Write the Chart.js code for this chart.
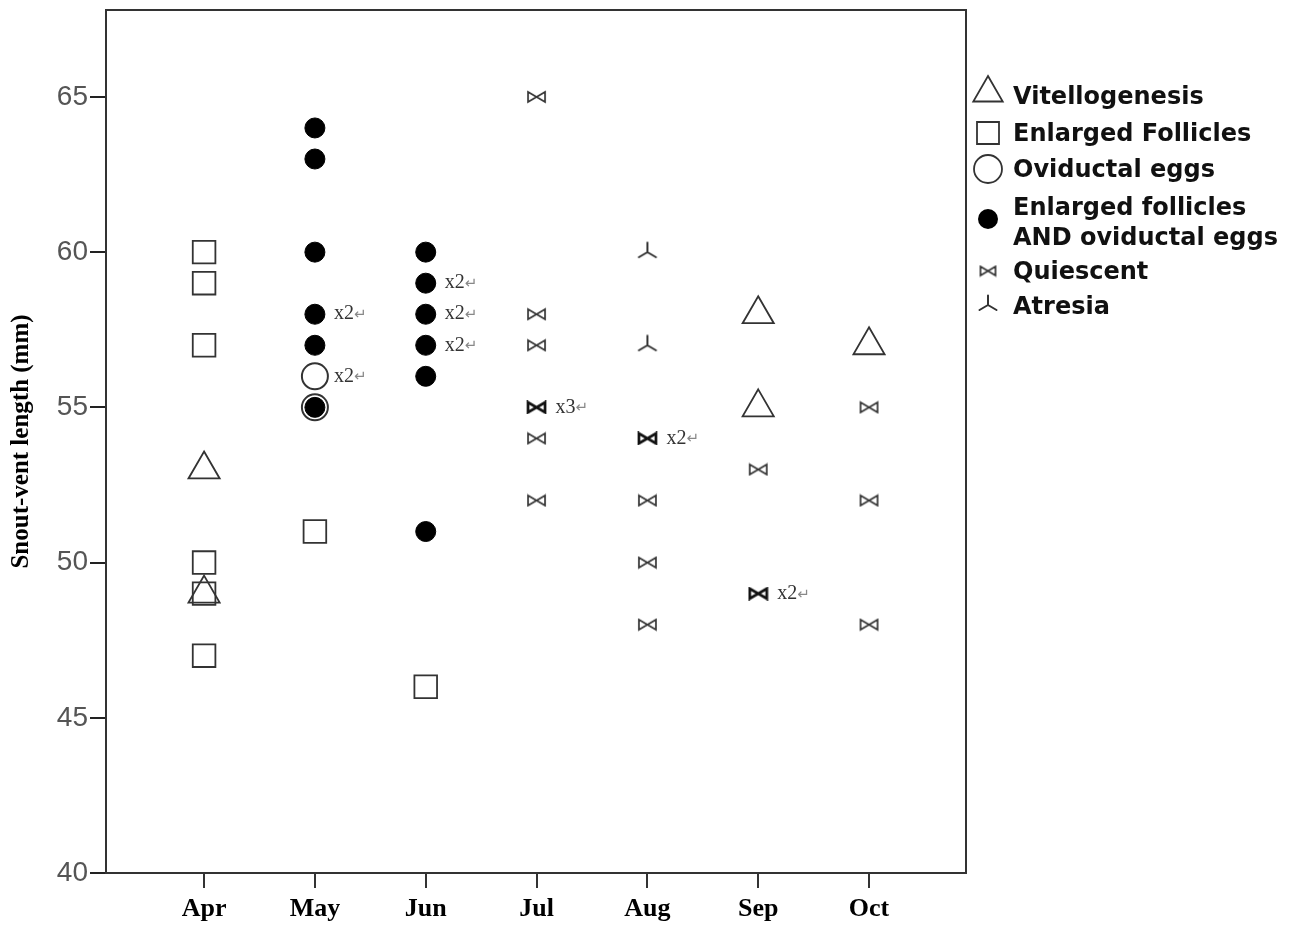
<!DOCTYPE html>
<html>
<head>
<meta charset="utf-8">
<script src="https://cdn.jsdelivr.net/npm/chart.js@4"></script>
<style>
  html, body { margin: 0; padding: 0; background: #ffffff; }
  #wrap { width: 1298px; height: 926px; }
</style>
</head>
<body>
<div id="wrap"><canvas id="c" width="1298" height="926"></canvas></div>
<script>
// ---------- Data ----------
const months = ['Apr', 'May', 'Jun', 'Jul', 'Aug', 'Sep', 'Oct'];
const yTicks = [40, 45, 50, 55, 60, 65];

const vitelloMonth = ['Apr', 'Apr', 'Sep', 'Sep', 'Oct'];
const vitelloSVL   = [53, 49, 58, 55, 57];

const enlargedMonth = ['Apr', 'Apr', 'Apr', 'Apr', 'Apr', 'Apr', 'May', 'Jun'];
const enlargedSVL   = [60, 59, 57, 50, 49, 47, 51, 46];

const oviductMonth = ['May', 'May'];
const oviductSVL   = [56, 55];

const bothMonth = ['May', 'May', 'May', 'May', 'May', 'May', 'Jun', 'Jun', 'Jun', 'Jun', 'Jun', 'Jun'];
const bothSVL   = [64, 63, 60, 58, 57, 55, 60, 59, 58, 57, 56, 51];

const quiescentMonth = ['Jul', 'Jul', 'Jul', 'Jul', 'Jul', 'Jul', 'Aug', 'Aug', 'Aug', 'Aug', 'Sep', 'Sep', 'Oct', 'Oct', 'Oct'];
const quiescentSVL   = [65, 58, 57, 55, 54, 52, 54, 52, 50, 48, 53, 49, 55, 52, 48];

const atresiaMonth = ['Aug', 'Aug'];
const atresiaSVL   = [60, 57];

// multiplicity labels ("x2", "x3")
const multMonth = ['May', 'May', 'Jun', 'Jun', 'Jun', 'Jul', 'Aug', 'Sep'];
const multSVL   = [58, 56, 59, 58, 57, 55, 54, 49];
const multCount = [2, 2, 2, 2, 2, 3, 2, 2];

const seriesNames = ['Vitellogenesis', 'Enlarged Follicles', 'Oviductal eggs',
  ['Enlarged follicles', 'AND oviductal eggs'], 'Quiescent', 'Atresia'];

// ---------- Helpers ----------
const mIdx = m => months.indexOf(m);
const pts = (ms, vs) => ms.map((m, i) => ({ x: mIdx(m), y: vs[i] }));
const isMulti = (x, y) => multMonth.some((m, i) => mIdx(m) === x && multSVL[i] === y);

function makeBowtie(w, h, lw, color) {
  const c = document.createElement('canvas');
  c.width = w + 4; c.height = h + 4;
  const g = c.getContext('2d');
  g.strokeStyle = color; g.lineWidth = lw; g.lineJoin = 'miter';
  const l = 2, r = w + 2, t = 2, b = h + 2, cx = (w + 4) / 2, cy = (h + 4) / 2;
  g.beginPath();
  g.moveTo(l, t); g.lineTo(l, b); g.lineTo(cx, cy); g.closePath();
  g.moveTo(r, t); g.lineTo(r, b); g.lineTo(cx, cy); g.closePath();
  g.stroke();
  return c;
}
function makeAtresia(color) {
  const c = document.createElement('canvas');
  c.width = 22; c.height = 22;
  const g = c.getContext('2d');
  g.strokeStyle = color; g.lineWidth = 2; g.lineCap = 'round';
  g.beginPath();
  g.moveTo(11, 11); g.lineTo(11, 1.5);
  g.moveTo(11, 11); g.lineTo(2.5, 16);
  g.moveTo(11, 11); g.lineTo(19.5, 16);
  g.stroke();
  return c;
}
const bowtie = makeBowtie(17, 10, 1.7, '#333');
const bowtieBold = makeBowtie(17, 10, 2.7, '#111');
const bowtieLegend = makeBowtie(15, 9, 1.7, '#333');
const atresia = makeAtresia('#333');

// ---------- Plugins ----------
const framePlugin = {
  id: 'frame',
  afterDraw(chart) {
    const { ctx, chartArea: a } = chart;
    ctx.save();
    ctx.strokeStyle = '#333';
    ctx.lineWidth = 2;
    ctx.strokeRect(a.left, a.top, a.right - a.left, a.bottom - a.top);
    ctx.restore();
  }
};

const multPlugin = {
  id: 'mult',
  afterDatasetsDraw(chart) {
    const { ctx, scales } = chart;
    ctx.save();
    ctx.textBaseline = 'middle';
    ctx.textAlign = 'left';
    multMonth.forEach((m, i) => {
      const px = scales.x.getPixelForValue(mIdx(m)) + 19;
      const py = scales.y.getPixelForValue(multSVL[i]);
      const t = 'x' + multCount[i];
      ctx.font = '20px "Liberation Serif"';
      ctx.fillStyle = '#333';
      ctx.fillText(t, px, py);
      const w = ctx.measureText(t).width;
      ctx.fillStyle = '#888';
      ctx.font = '15px "DejaVu Sans"';
      ctx.fillText('\u21B5', px + w, py + 1);
    });
    ctx.restore();
  }
};

function drawMarker(ctx, type, x, y) {
  ctx.save();
  ctx.strokeStyle = '#333';
  ctx.lineWidth = 1.8;
  ctx.beginPath();
  if (type === 0) {
    const r = 17;
    ctx.moveTo(x, y - r);
    ctx.lineTo(x + r * Math.sin(2 * Math.PI / 3), y - r * Math.cos(2 * Math.PI / 3));
    ctx.lineTo(x + r * Math.sin(4 * Math.PI / 3), y - r * Math.cos(4 * Math.PI / 3));
    ctx.closePath(); ctx.stroke();
  } else if (type === 1) {
    ctx.rect(x - 11, y - 11, 22, 22); ctx.stroke();
  } else if (type === 2) {
    ctx.arc(x, y, 14, 0, Math.PI * 2); ctx.stroke();
  } else if (type === 3) {
    ctx.fillStyle = '#000';
    ctx.arc(x, y, 10, 0, Math.PI * 2); ctx.fill();
  } else if (type === 4) {
    ctx.drawImage(bowtieLegend, x - bowtieLegend.width / 2, y - bowtieLegend.height / 2);
  } else if (type === 5) {
    ctx.drawImage(atresia, x - atresia.width / 2, y - atresia.height / 2);
  }
  ctx.restore();
}

const legendPlugin = {
  id: 'customLegend',
  afterDraw(chart) {
    const { ctx } = chart;
    const markerX = 988, textX = 1013;
    const rows = [
      { m: 96, t: [98] },
      { m: 133, t: [135] },
      { m: 169, t: [171] },
      { m: 219, t: [209, 239] },
      { m: 271, t: [273] },
      { m: 305, t: [308] }
    ];
    ctx.save();
    ctx.font = 'bold 24px "DejaVu Sans"';
    ctx.fillStyle = '#111';
    ctx.textBaseline = 'middle';
    ctx.textAlign = 'left';
    seriesNames.forEach((name, i) => {
      const mOff = (i === 0) ? -3 : 0;
      drawMarker(ctx, i, markerX, rows[i].m + mOff);
      const lines = Array.isArray(name) ? name : [name];
      lines.forEach((ln, j) => ctx.fillText(ln, textX, rows[i].t[j]));
    });
    ctx.restore();
  }
};

// ---------- Chart ----------
const ds = (label, data, extra) => Object.assign({
  label, data,
  backgroundColor: 'rgba(0,0,0,0)',
  borderColor: '#333',
  borderWidth: 1.8,
  hoverRadius: 0
}, extra);

new Chart(document.getElementById('c'), {
  type: 'scatter',
  data: {
    datasets: [
      ds('Vitellogenesis', pts(vitelloMonth, vitelloSVL), { pointStyle: 'triangle', pointRadius: 18 }),
      ds('Enlarged Follicles', pts(enlargedMonth, enlargedSVL), { pointStyle: 'rect', pointRadius: 16 }),
      ds('Oviductal eggs', pts(oviductMonth, oviductSVL), { pointStyle: 'circle', pointRadius: 13, borderWidth: 2 }),
      ds('Enlarged follicles AND oviductal eggs', pts(bothMonth, bothSVL), { pointStyle: 'circle', pointRadius: 10, backgroundColor: '#000', borderColor: '#000', borderWidth: 1 }),
      ds('Quiescent', pts(quiescentMonth, quiescentSVL), {
        pointStyle: (c) => (c.raw && isMulti(c.raw.x, c.raw.y)) ? bowtieBold : bowtie,
        pointRadius: 9
      }),
      ds('Atresia', pts(atresiaMonth, atresiaSVL), { pointStyle: atresia, pointRadius: 10 })
    ]
  },
  options: {
    responsive: false,
    animation: false,
    events: [],
    layout: { autoPadding: false, padding: { left: 0, right: 332, top: 10, bottom: 0 } },
    plugins: {
      legend: { display: false },
      tooltip: { enabled: false },
      title: { display: false }
    },
    scales: {
      x: {
        type: 'linear',
        min: -0.885,
        max: 6.875,
        afterFit: s => { s.height = 53; },
        afterBuildTicks: s => { s.ticks = months.map((m, i) => ({ value: i })); },
        ticks: {
          callback: v => months[v] ?? '',
          font: { family: '"Liberation Serif"', size: 26, weight: 'bold' },
          color: '#000',
          padding: 6,
          maxRotation: 0,
          autoSkip: false
        },
        grid: { drawOnChartArea: false, drawTicks: true, tickLength: 15, color: '#333', lineWidth: 2 },
        border: { display: true, color: '#333', width: 2 }
      },
      y: {
        type: 'linear',
        min: 40,
        max: 67.8,
        afterFit: s => { s.width = 106; },
        afterBuildTicks: s => { s.ticks = yTicks.map(v => ({ value: v })); },
        ticks: {
          font: { family: '"Liberation Sans"', size: 28, lineHeight: 0.5 },
          color: '#555',
          padding: 2
        },
        grid: { drawOnChartArea: false, drawTicks: true, tickLength: 16, color: '#222', lineWidth: 2 },
        border: { display: true, color: '#111', width: 2 },
        title: {
          display: true,
          text: 'Snout-vent length (mm)',
          font: { family: '"Liberation Serif"', size: 25, weight: 'bold' },
          color: '#000',
          padding: { top: 7, bottom: 0 }
        }
      }
    }
  },
  plugins: [framePlugin, multPlugin, legendPlugin]
});
</script>
</body>
</html>
